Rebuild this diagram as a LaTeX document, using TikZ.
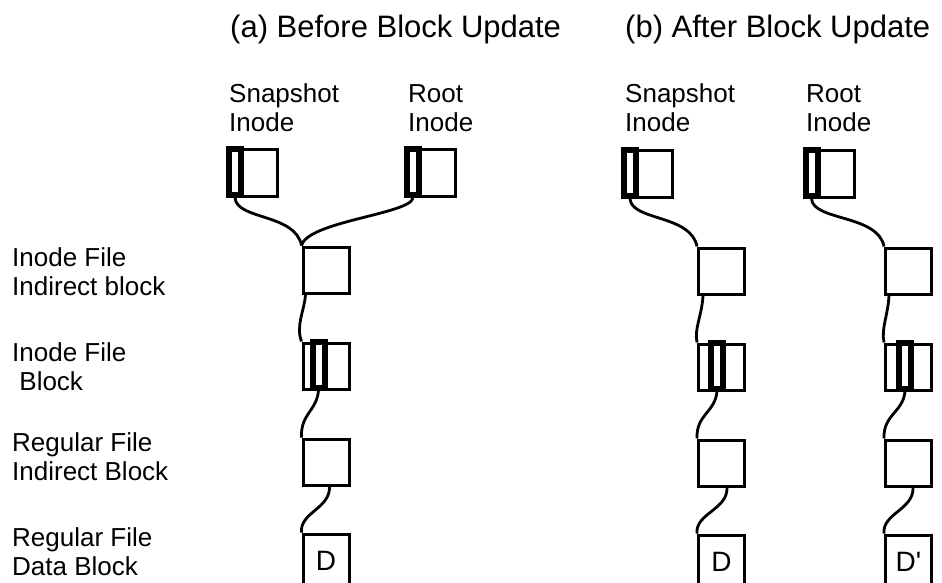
\documentclass[tikz,border=0pt]{standalone}
\usepackage{fontspec}
\setmainfont{Liberation Sans}
\newfontfamily\blockfont{Liberation Sans}[Ligatures=TeXOff]
\usetikzlibrary{positioning}
\tikzstyle{block}=[rectangle, draw=black, line width=3pt, minimum width=46pt, minimum height=46pt, inner sep=0pt, font=\blockfont\fontsize{28}{30}\selectfont]

\begin{document}
\begin{tikzpicture}[
        x=1pt, y=1pt,
        node distance = 47pt,
        inode/.style={block, minimum width=50pt, minimum height=47pt},
        slotbox/.style={rectangle, draw=black, line width=6pt, minimum width=12pt, minimum height=46pt, inner sep=0pt, anchor=south west},
        datablock/.style={block, minimum height=54pt},
        desc/.style={align=left, inner sep=0pt, anchor=base west, font=\fontsize{26}{29}\selectfont},
        heading/.style={inner sep=0pt, anchor=base west, font=\fontsize{31}{36}\selectfont},
        link/.style={line width=2.8pt},
      ]
      \useasboundingbox (0,0) rectangle (942,582);
      % titles
      \node (TitleA) [heading] at (230,544) {(a) Before Block Update};
      \node (TitleB) [heading] at (625,544) {(b) After Block Update};
      % row labels (anchored on the last line)
      \node (LabInd) [desc] at (12,287) {Inode File\\Indirect block};
      \node (LabIfb) [desc] at (12,192) {Inode File\\\ Block};
      \node (LabReg) [desc] at (12,102) {Regular File\\Indirect Block};
      \node (LabDat) [desc] at (12,7) {Regular File\\Data Block};
      % inodes
      \node (LabSnapA) [desc] at (229,450) {Snapshot\\Inode};
      \node (LabRootA) [desc] at (408,450) {Root\\Inode};
      \node (LabSnapB) [desc] at (625,450) {Snapshot\\Inode};
      \node (LabRootB) [desc] at (806,450) {Root\\Inode};
      \node (SnapA) [inode] at (252.5,409) {};
      \node (RootA) [inode] at (430.5,409) {};
      \node (SnapB) [inode] at (647.5,408) {};
      \node (RootB) [inode] at (829,408) {};
      \node (SnapAslot) [slotbox] at (SnapA.south west) {};
      \node (RootAslot) [slotbox] at (RootA.south west) {};
      \node (SnapBslot) [slotbox] at (SnapB.south west) {};
      \node (RootBslot) [slotbox] at (RootB.south west) {};
      % (a) before
      \node (IndA) [block] at (326,312) {};
      \node (IfbA) [block, below=of IndA] {};
      \node (RegA) [block, below=of IfbA] {};
      \node (DatA) [datablock, below=46pt of RegA] {D};
      \node (IfbAslot) [slotbox, xshift=8pt] at (IfbA.south west) {};
      % (b) after, snapshot side
      \node (IndB) [block] at (721.5,311) {};
      \node (IfbB) [block, below=of IndB] {};
      \node (RegB) [block, below=of IfbB] {};
      \node (DatB) [datablock, below=46pt of RegB] {D};
      \node (IfbBslot) [slotbox, xshift=11pt] at (IfbB.south west) {};
      % (b) after, root side
      \node (IndC) [block] at (908.5,311) {};
      \node (IfbC) [block, below=of IndC] {};
      \node (RegC) [block, below=of IfbC] {};
      \node (DatC) [datablock, below=46pt of RegC] {D'};
      \node (IfbCslot) [slotbox, xshift=12pt] at (IfbC.south west) {};
      % pointers
      \draw [link] (SnapAslot.south) .. controls +(2,-22) and +(-6,32) .. (IndA.north west);
      \draw [link] (RootAslot.south) .. controls +(-3,-16) and +(6,24) .. (IndA.north west);
      \draw [link] ([xshift=4pt]IndA.south west) .. controls +(-1,-16) and +(-6,16) .. (IfbA.north west);
      \draw [link] (IfbAslot.south) .. controls +(-2,-21) and +(-1,24) .. (RegA.north west);
      \draw [link] ([xshift=28pt]RegA.south west) .. controls +(1,-22) and +(-2,20) .. (DatA.north west);
      \draw [link] (SnapBslot.south) .. controls +(2,-22) and +(-6,32) .. (IndB.north west);
      \draw [link] ([xshift=6pt]IndB.south west) .. controls +(-1,-20) and +(-3,14) .. (IfbB.north west);
      \draw [link] (IfbBslot.south) .. controls +(-2,-21) and +(-1,24) .. (RegB.north west);
      \draw [link] ([xshift=30pt]RegB.south west) .. controls +(1,-22) and +(-2,20) .. (DatB.north west);
      \draw [link] (RootBslot.south) .. controls +(2,-22) and +(-6,32) .. (IndC.north west);
      \draw [link] ([xshift=5pt]IndC.south west) .. controls +(-1,-20) and +(-3,14) .. (IfbC.north west);
      \draw [link] (IfbCslot.south) .. controls +(-2,-21) and +(-1,24) .. (RegC.north west);
      \draw [link] ([xshift=29pt]RegC.south west) .. controls +(1,-22) and +(-2,20) .. (DatC.north west);
    \end{tikzpicture}
\end{document}
